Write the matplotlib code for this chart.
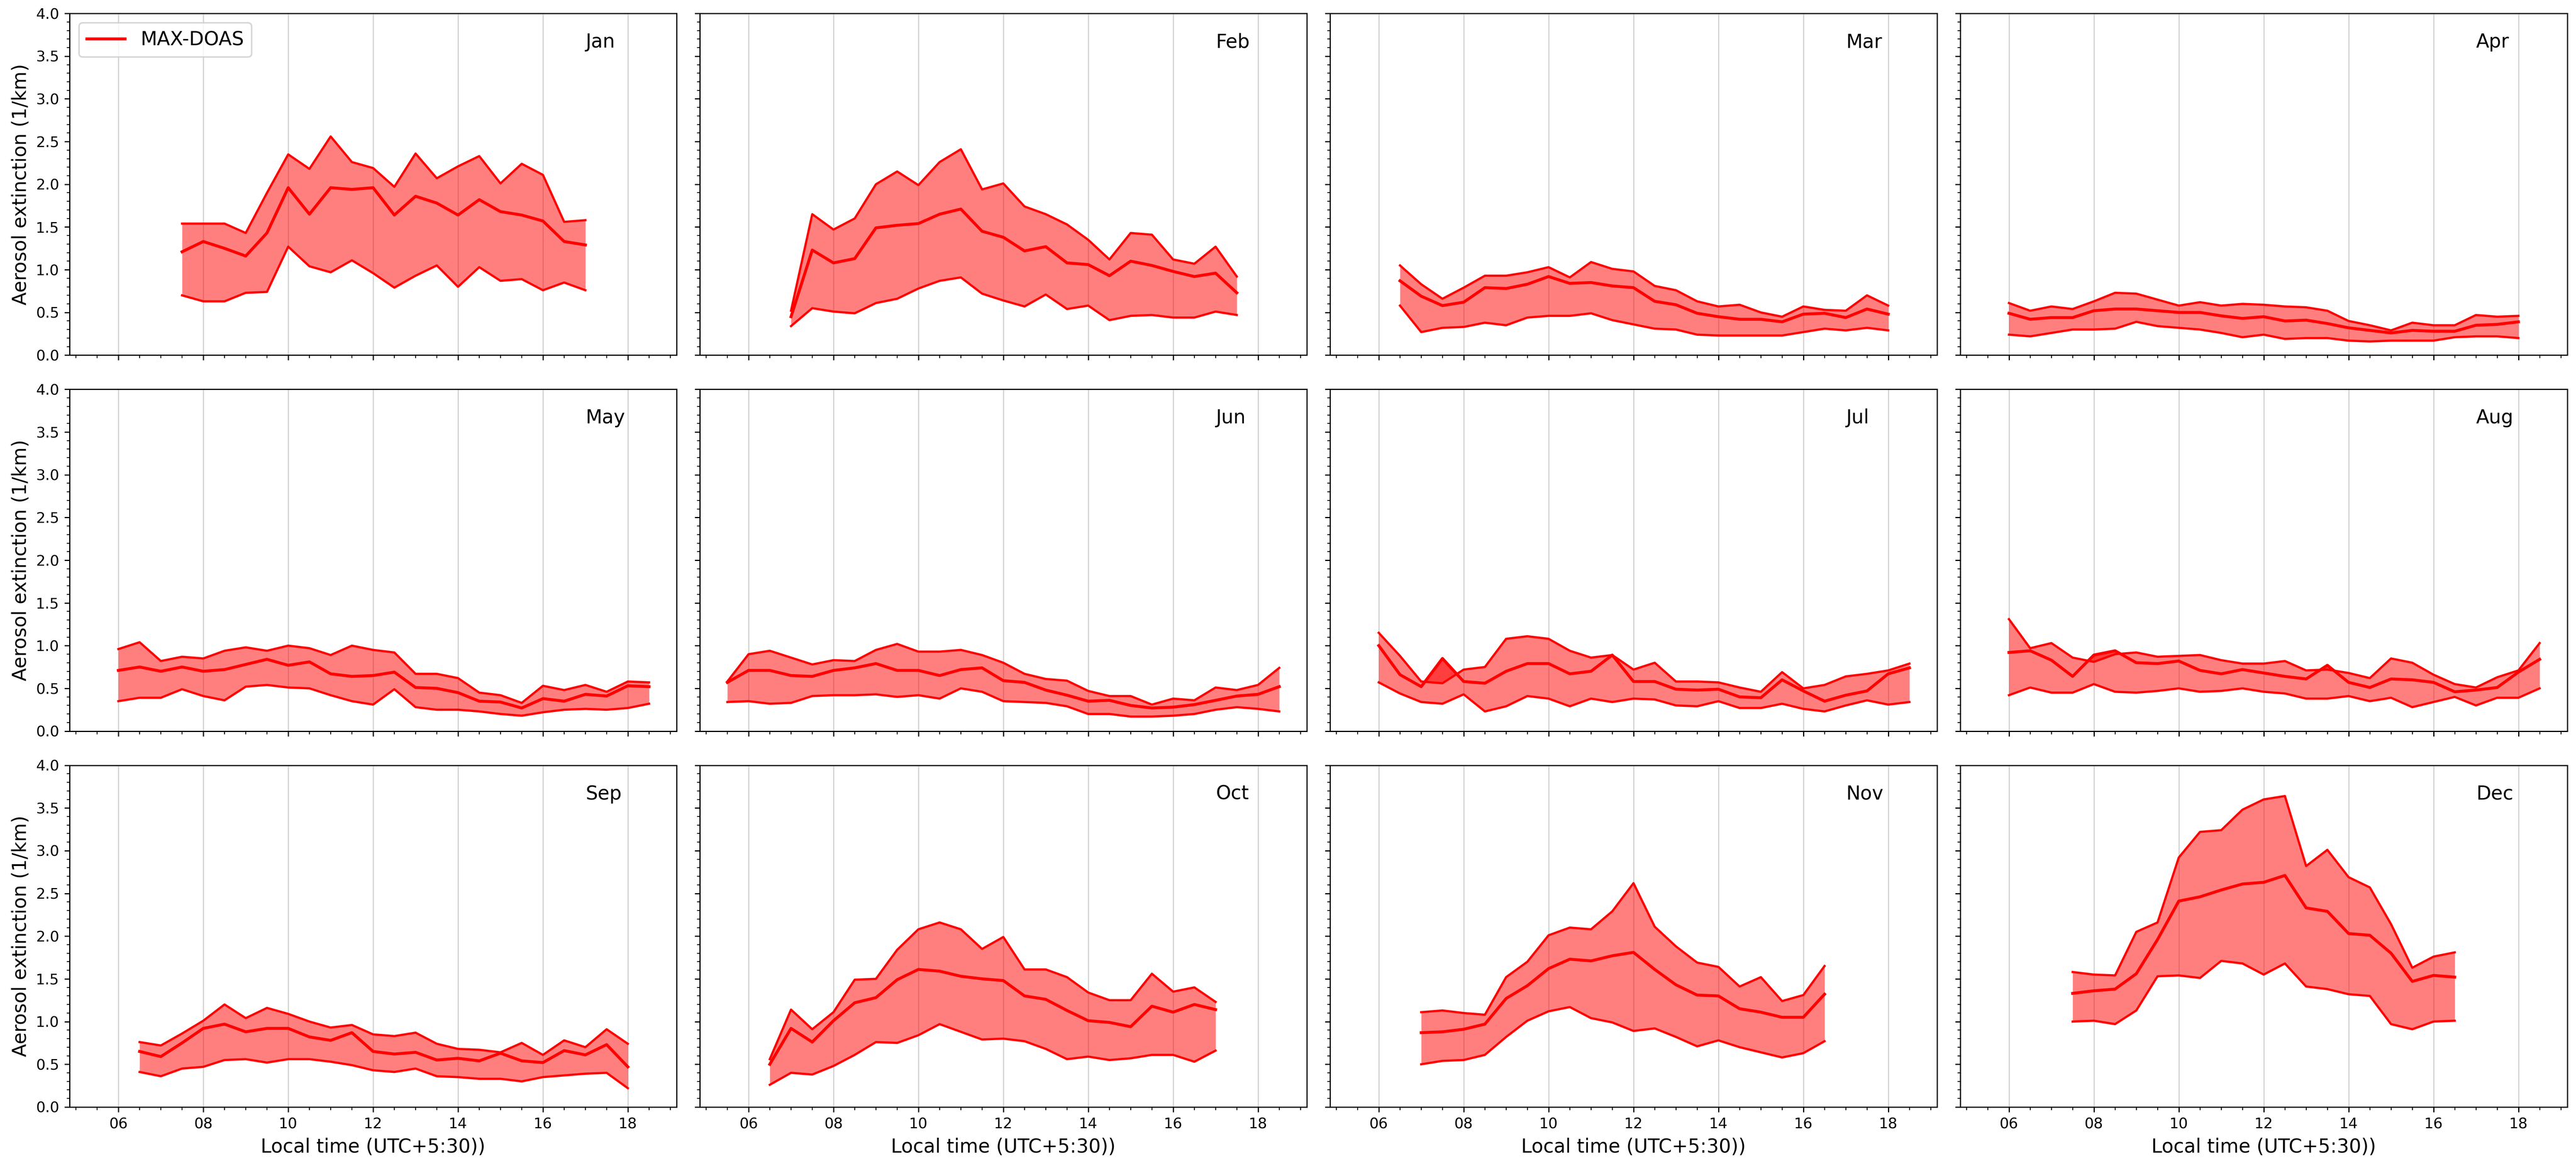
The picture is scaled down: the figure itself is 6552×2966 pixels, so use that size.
import matplotlib
matplotlib.use("Agg")
import matplotlib.pyplot as plt
from matplotlib.ticker import MultipleLocator, FormatStrFormatter

# ---------------- data ----------------
month_names = ["Jan", "Feb", "Mar", "Apr", "May", "Jun",
               "Jul", "Aug", "Sep", "Oct", "Nov", "Dec"]

jan_t = [7.5, 8.0, 8.5, 9.0, 9.5, 10.0, 10.5, 11.0, 11.5, 12.0, 12.5, 13.0,
         13.5, 14.0, 14.5, 15.0, 15.5, 16.0, 16.5, 17.0]
jan_hi = [1.54, 1.54, 1.54, 1.43, 1.90, 2.35, 2.18, 2.56, 2.26, 2.19, 1.97, 2.36,
          2.07, 2.21, 2.33, 2.01, 2.24, 2.11, 1.56, 1.58]
jan_mu = [1.21, 1.33, 1.25, 1.16, 1.43, 1.96, 1.65, 1.96, 1.94, 1.96, 1.64, 1.86,
          1.78, 1.64, 1.82, 1.68, 1.64, 1.57, 1.33, 1.29]
jan_lo = [0.70, 0.63, 0.63, 0.73, 0.74, 1.27, 1.04, 0.97, 1.11, 0.96, 0.79, 0.93,
          1.05, 0.80, 1.03, 0.87, 0.89, 0.76, 0.85, 0.76]

feb_t = [7.0, 7.5, 8.0, 8.5, 9.0, 9.5, 10.0, 10.5, 11.0, 11.5, 12.0, 12.5,
         13.0, 13.5, 14.0, 14.5, 15.0, 15.5, 16.0, 16.5, 17.0, 17.5]
feb_hi = [0.52, 1.65, 1.47, 1.60, 2.00, 2.15, 1.99, 2.26, 2.41, 1.94, 2.01, 1.74,
          1.65, 1.53, 1.35, 1.12, 1.43, 1.41, 1.12, 1.07, 1.27, 0.92]
feb_mu = [0.45, 1.23, 1.08, 1.13, 1.49, 1.52, 1.54, 1.65, 1.71, 1.45, 1.38, 1.22,
          1.27, 1.08, 1.06, 0.93, 1.10, 1.05, 0.98, 0.92, 0.96, 0.73]
feb_lo = [0.34, 0.55, 0.51, 0.49, 0.61, 0.66, 0.78, 0.87, 0.91, 0.72, 0.64, 0.57,
          0.71, 0.54, 0.58, 0.41, 0.46, 0.47, 0.44, 0.44, 0.51, 0.47]

mar_t = [6.5, 7.0, 7.5, 8.0, 8.5, 9.0, 9.5, 10.0, 10.5, 11.0, 11.5, 12.0,
         12.5, 13.0, 13.5, 14.0, 14.5, 15.0, 15.5, 16.0, 16.5, 17.0, 17.5, 18.0]
mar_hi = [1.05, 0.83, 0.66, 0.79, 0.93, 0.93, 0.97, 1.03, 0.91, 1.09, 1.01, 0.98,
          0.81, 0.76, 0.63, 0.57, 0.59, 0.50, 0.45, 0.57, 0.53, 0.52, 0.70, 0.58]
mar_mu = [0.87, 0.69, 0.58, 0.62, 0.79, 0.78, 0.83, 0.92, 0.84, 0.85, 0.81, 0.79,
          0.63, 0.59, 0.49, 0.45, 0.42, 0.42, 0.39, 0.48, 0.49, 0.44, 0.54, 0.48]
mar_lo = [0.58, 0.27, 0.32, 0.33, 0.38, 0.35, 0.44, 0.46, 0.46, 0.49, 0.41, 0.36,
          0.31, 0.30, 0.24, 0.23, 0.23, 0.23, 0.23, 0.27, 0.31, 0.29, 0.32, 0.29]

apr_t = [6.0, 6.5, 7.0, 7.5, 8.0, 8.5, 9.0, 9.5, 10.0, 10.5, 11.0, 11.5, 12.0,
         12.5, 13.0, 13.5, 14.0, 14.5, 15.0, 15.5, 16.0, 16.5, 17.0, 17.5, 18.0]
apr_hi = [0.61, 0.52, 0.57, 0.54, 0.63, 0.73, 0.72, 0.65, 0.58, 0.62, 0.58, 0.60, 0.59,
          0.57, 0.56, 0.52, 0.40, 0.35, 0.29, 0.38, 0.35, 0.35, 0.47, 0.45, 0.46]
apr_mu = [0.49, 0.42, 0.44, 0.44, 0.52, 0.54, 0.54, 0.52, 0.50, 0.50, 0.46, 0.43, 0.45,
          0.40, 0.41, 0.37, 0.32, 0.29, 0.26, 0.29, 0.28, 0.28, 0.35, 0.36, 0.39]
apr_lo = [0.24, 0.22, 0.26, 0.30, 0.30, 0.31, 0.39, 0.34, 0.32, 0.30, 0.26, 0.21, 0.24,
          0.19, 0.20, 0.20, 0.17, 0.16, 0.17, 0.17, 0.17, 0.21, 0.22, 0.22, 0.20]

may_t = [6.0, 6.5, 7.0, 7.5, 8.0, 8.5, 9.0, 9.5, 10.0, 10.5, 11.0, 11.5, 12.0,
         12.5, 13.0, 13.5, 14.0, 14.5, 15.0, 15.5, 16.0, 16.5, 17.0, 17.5, 18.0, 18.5]
may_hi = [0.96, 1.04, 0.82, 0.87, 0.85, 0.94, 0.98, 0.94, 1.00, 0.97, 0.89, 1.00, 0.95,
          0.92, 0.67, 0.67, 0.62, 0.45, 0.42, 0.33, 0.53, 0.48, 0.54, 0.46, 0.58, 0.57]
may_mu = [0.71, 0.75, 0.70, 0.75, 0.70, 0.72, 0.78, 0.84, 0.77, 0.81, 0.67, 0.64, 0.65,
          0.69, 0.51, 0.50, 0.45, 0.35, 0.34, 0.27, 0.38, 0.35, 0.43, 0.41, 0.53, 0.52]
may_lo = [0.35, 0.39, 0.39, 0.49, 0.41, 0.36, 0.52, 0.54, 0.51, 0.50, 0.42, 0.35, 0.31,
          0.49, 0.28, 0.25, 0.25, 0.23, 0.20, 0.18, 0.22, 0.25, 0.26, 0.25, 0.27, 0.32]

jun_t = [5.5, 6.0, 6.5, 7.0, 7.5, 8.0, 8.5, 9.0, 9.5, 10.0, 10.5, 11.0, 11.5, 12.0,
         12.5, 13.0, 13.5, 14.0, 14.5, 15.0, 15.5, 16.0, 16.5, 17.0, 17.5, 18.0, 18.5]
jun_hi = [0.58, 0.90, 0.94, 0.86, 0.78, 0.83, 0.82, 0.95, 1.02, 0.93, 0.93, 0.95, 0.89, 0.80,
          0.67, 0.61, 0.59, 0.47, 0.41, 0.41, 0.31, 0.38, 0.36, 0.51, 0.48, 0.54, 0.74]
jun_mu = [0.57, 0.71, 0.71, 0.65, 0.64, 0.71, 0.74, 0.79, 0.71, 0.71, 0.65, 0.72, 0.74, 0.59,
          0.57, 0.48, 0.42, 0.35, 0.36, 0.30, 0.27, 0.28, 0.31, 0.36, 0.41, 0.43, 0.52]
jun_lo = [0.34, 0.35, 0.32, 0.33, 0.41, 0.42, 0.42, 0.43, 0.40, 0.42, 0.38, 0.50, 0.46, 0.35,
          0.34, 0.33, 0.29, 0.20, 0.20, 0.17, 0.17, 0.18, 0.20, 0.25, 0.28, 0.26, 0.23]

jul_t = [6.0, 6.5, 7.0, 7.5, 8.0, 8.5, 9.0, 9.5, 10.0, 10.5, 11.0, 11.5, 12.0,
         12.5, 13.0, 13.5, 14.0, 14.5, 15.0, 15.5, 16.0, 16.5, 17.0, 17.5, 18.0, 18.5]
jul_hi = [1.15, 0.88, 0.58, 0.56, 0.72, 0.75, 1.08, 1.11, 1.08, 0.94, 0.86, 0.89, 0.72,
          0.80, 0.58, 0.58, 0.57, 0.51, 0.46, 0.69, 0.50, 0.54, 0.64, 0.67, 0.71, 0.79]
jul_mu = [1.00, 0.66, 0.52, 0.85, 0.58, 0.56, 0.70, 0.79, 0.79, 0.67, 0.70, 0.89, 0.58,
          0.58, 0.49, 0.48, 0.49, 0.40, 0.39, 0.60, 0.47, 0.35, 0.42, 0.47, 0.67, 0.74]
jul_lo = [0.57, 0.44, 0.34, 0.32, 0.43, 0.23, 0.29, 0.41, 0.38, 0.29, 0.38, 0.34, 0.38,
          0.37, 0.30, 0.29, 0.35, 0.27, 0.27, 0.32, 0.26, 0.23, 0.30, 0.36, 0.31, 0.34]

aug_t = [6.0, 6.5, 7.0, 7.5, 8.0, 8.5, 9.0, 9.5, 10.0, 10.5, 11.0, 11.5, 12.0,
         12.5, 13.0, 13.5, 14.0, 14.5, 15.0, 15.5, 16.0, 16.5, 17.0, 17.5, 18.0, 18.5]
aug_hi = [1.31, 0.97, 1.03, 0.86, 0.81, 0.90, 0.92, 0.87, 0.88, 0.89, 0.83, 0.79, 0.79,
          0.82, 0.71, 0.72, 0.68, 0.62, 0.85, 0.80, 0.66, 0.55, 0.51, 0.63, 0.71, 1.03]
aug_mu = [0.92, 0.94, 0.83, 0.64, 0.89, 0.94, 0.80, 0.79, 0.82, 0.71, 0.67, 0.72, 0.68,
          0.64, 0.61, 0.77, 0.57, 0.51, 0.61, 0.60, 0.57, 0.46, 0.48, 0.51, 0.69, 0.84]
aug_lo = [0.42, 0.51, 0.45, 0.45, 0.55, 0.46, 0.45, 0.47, 0.50, 0.46, 0.47, 0.50, 0.46,
          0.44, 0.38, 0.38, 0.41, 0.35, 0.39, 0.28, 0.34, 0.40, 0.30, 0.39, 0.39, 0.50]

sep_t = [6.5, 7.0, 7.5, 8.0, 8.5, 9.0, 9.5, 10.0, 10.5, 11.0, 11.5, 12.0,
         12.5, 13.0, 13.5, 14.0, 14.5, 15.0, 15.5, 16.0, 16.5, 17.0, 17.5, 18.0]
sep_hi = [0.76, 0.72, 0.86, 1.01, 1.20, 1.04, 1.16, 1.09, 1.00, 0.93, 0.96, 0.85,
          0.83, 0.87, 0.74, 0.68, 0.67, 0.64, 0.75, 0.61, 0.78, 0.70, 0.91, 0.74]
sep_mu = [0.65, 0.59, 0.75, 0.92, 0.97, 0.88, 0.92, 0.92, 0.82, 0.78, 0.87, 0.65,
          0.62, 0.64, 0.55, 0.57, 0.54, 0.63, 0.54, 0.52, 0.66, 0.61, 0.73, 0.47]
sep_lo = [0.41, 0.36, 0.45, 0.47, 0.55, 0.56, 0.52, 0.56, 0.56, 0.53, 0.49, 0.43,
          0.41, 0.45, 0.36, 0.35, 0.33, 0.33, 0.30, 0.35, 0.37, 0.39, 0.40, 0.22]

oct_t = [6.5, 7.0, 7.5, 8.0, 8.5, 9.0, 9.5, 10.0, 10.5, 11.0, 11.5, 12.0,
         12.5, 13.0, 13.5, 14.0, 14.5, 15.0, 15.5, 16.0, 16.5, 17.0]
oct_hi = [0.56, 1.14, 0.91, 1.11, 1.49, 1.50, 1.84, 2.08, 2.16, 2.08, 1.85, 1.99,
          1.61, 1.61, 1.52, 1.34, 1.25, 1.25, 1.56, 1.35, 1.40, 1.23]
oct_mu = [0.50, 0.92, 0.76, 1.01, 1.22, 1.28, 1.49, 1.61, 1.59, 1.53, 1.50, 1.48,
          1.30, 1.26, 1.13, 1.01, 0.99, 0.94, 1.18, 1.11, 1.20, 1.14]
oct_lo = [0.26, 0.40, 0.38, 0.48, 0.61, 0.76, 0.75, 0.84, 0.97, 0.88, 0.79, 0.80,
          0.77, 0.68, 0.56, 0.59, 0.55, 0.57, 0.61, 0.61, 0.53, 0.66]

nov_t = [7.0, 7.5, 8.0, 8.5, 9.0, 9.5, 10.0, 10.5, 11.0, 11.5, 12.0, 12.5,
         13.0, 13.5, 14.0, 14.5, 15.0, 15.5, 16.0, 16.5]
nov_hi = [1.11, 1.13, 1.10, 1.08, 1.52, 1.70, 2.01, 2.10, 2.08, 2.29, 2.62, 2.11,
          1.88, 1.69, 1.64, 1.41, 1.52, 1.24, 1.31, 1.65]
nov_mu = [0.87, 0.88, 0.91, 0.97, 1.27, 1.42, 1.62, 1.73, 1.71, 1.77, 1.81, 1.61,
          1.43, 1.31, 1.30, 1.15, 1.11, 1.05, 1.05, 1.32]
nov_lo = [0.50, 0.54, 0.55, 0.61, 0.82, 1.01, 1.12, 1.17, 1.04, 0.99, 0.89, 0.92,
          0.82, 0.71, 0.78, 0.70, 0.64, 0.58, 0.63, 0.77]

dec_t = [7.5, 8.0, 8.5, 9.0, 9.5, 10.0, 10.5, 11.0, 11.5, 12.0, 12.5,
         13.0, 13.5, 14.0, 14.5, 15.0, 15.5, 16.0, 16.5]
dec_hi = [1.58, 1.55, 1.54, 2.05, 2.16, 2.92, 3.22, 3.24, 3.48, 3.60, 3.64,
          2.82, 3.01, 2.69, 2.57, 2.14, 1.63, 1.76, 1.81]
dec_mu = [1.33, 1.36, 1.38, 1.56, 1.96, 2.41, 2.46, 2.54, 2.61, 2.63, 2.71,
          2.33, 2.29, 2.03, 2.01, 1.80, 1.47, 1.54, 1.52]
dec_lo = [1.00, 1.01, 0.97, 1.13, 1.53, 1.54, 1.51, 1.71, 1.68, 1.55, 1.68,
          1.41, 1.38, 1.32, 1.30, 0.97, 0.91, 1.00, 1.01]

x_tick_values = [6, 8, 10, 12, 14, 16, 18]
x_tick_labels = ["06", "08", "10", "12", "14", "16", "18"]
series_label = "MAX-DOAS"
y_label = "Aerosol extinction (1/km)"
x_label = "Local time (UTC+5:30))"

table = [
    (jan_t, jan_lo, jan_mu, jan_hi), (feb_t, feb_lo, feb_mu, feb_hi),
    (mar_t, mar_lo, mar_mu, mar_hi), (apr_t, apr_lo, apr_mu, apr_hi),
    (may_t, may_lo, may_mu, may_hi), (jun_t, jun_lo, jun_mu, jun_hi),
    (jul_t, jul_lo, jul_mu, jul_hi), (aug_t, aug_lo, aug_mu, aug_hi),
    (sep_t, sep_lo, sep_mu, sep_hi), (oct_t, oct_lo, oct_mu, oct_hi),
    (nov_t, nov_lo, nov_mu, nov_hi), (dec_t, dec_lo, dec_mu, dec_hi),
]

# ---------------- figure ----------------
DPI = 270
fig, axes = plt.subplots(3, 4, figsize=(6552 / DPI, 2966 / DPI), dpi=DPI,
                         sharex=True, sharey=True)
fig.subplots_adjust(left=0.027, right=0.9966, bottom=0.0506, top=0.9885,
                    wspace=0.038, hspace=0.100)

for ax, name, (t, lo, mu, hi) in zip(axes.flat, month_names, table):
    ax.fill_between(t, lo, mu, color="red", alpha=0.5, linewidth=0)
    ax.fill_between(t, mu, hi, color="red", alpha=0.5, linewidth=0)
    ax.plot(t, hi, color="red", lw=1.5)
    ax.plot(t, lo, color="red", lw=1.5)
    ax.plot(t, mu, color="red", lw=2.0, label=series_label)
    ax.text(0.85, 0.9, name, transform=ax.transAxes, fontsize=13)
    ax.grid(axis="x", which="major", color="lightgray", lw=0.8)
    ax.set_axisbelow(True)
    ax.set_ylim(0, 4)
    ax.yaxis.set_major_locator(MultipleLocator(0.5))
    ax.yaxis.set_minor_locator(MultipleLocator(0.1))
    ax.xaxis.set_minor_locator(MultipleLocator(0.5))
    ax.tick_params(axis="both", which="major", labelsize=10)

axes[0, 0].set_xticks(x_tick_values)
axes[0, 0].set_xticklabels(x_tick_labels)
axes[0, 0].yaxis.set_major_formatter(FormatStrFormatter("%.1f"))
axes[0, 0].legend(loc="upper left", fontsize=13)

for ax in axes[:, 0]:
    ax.set_ylabel(y_label, fontsize=13)
for ax in axes[-1, :]:
    ax.set_xlabel(x_label, fontsize=13)

fig.savefig("out.png", dpi=DPI)
